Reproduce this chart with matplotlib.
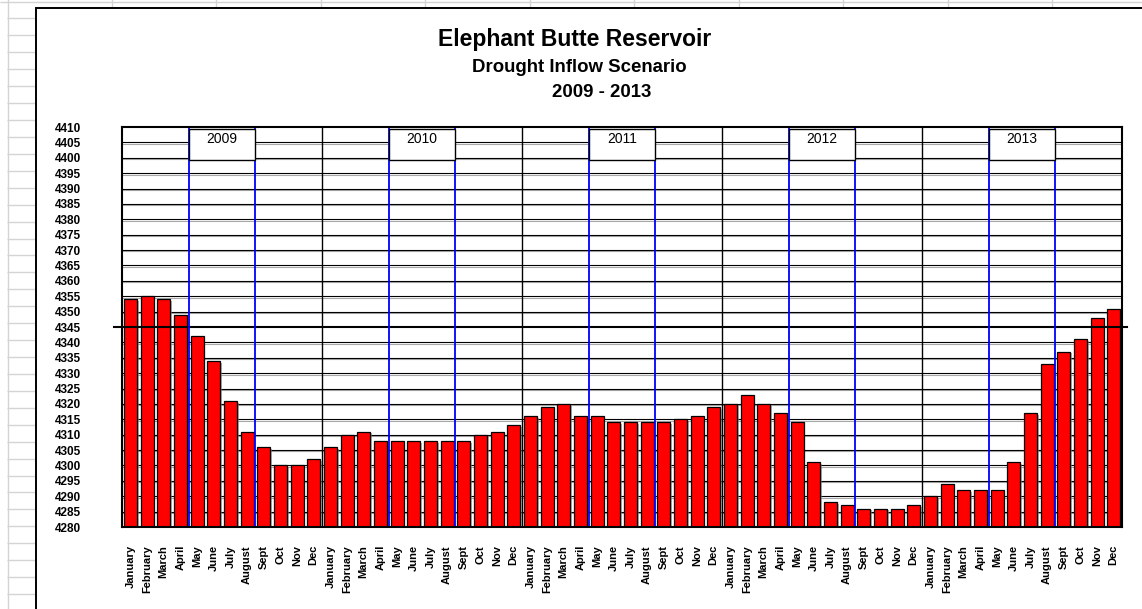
import numpy as np
import matplotlib
matplotlib.use("Agg")
import matplotlib.pyplot as plt
from matplotlib.patches import Rectangle
from matplotlib.lines import Line2D
from matplotlib.transforms import ScaledTranslation
import matplotlib.patheffects as pe

plt.rcParams['font.family'] = ['Liberation Sans', 'DejaVu Sans']

# ---- data -------------------------------------------------------------
years = [2009, 2010, 2011, 2012, 2013]
month_labels = ["January", "February", "March", "April", "May", "June",
                "July", "August", "Sept", "Oct", "Nov", "Dec"]

elev_2009 = [4354, 4355, 4354, 4349, 4342, 4334, 4321, 4311, 4306, 4300, 4300, 4302]
elev_2010 = [4306, 4310, 4311, 4308, 4308, 4308, 4308, 4308, 4308, 4310, 4311, 4313]
elev_2011 = [4316, 4319, 4320, 4316, 4316, 4314, 4314, 4314, 4314, 4315, 4316, 4319]
elev_2012 = [4320, 4323, 4320, 4317, 4314, 4301, 4288, 4287, 4286, 4286, 4286, 4287]
elev_2013 = [4290, 4294, 4292, 4292, 4292, 4301, 4317, 4333, 4337, 4341, 4348, 4351]

y_ticks = list(range(4280, 4411, 5))
reference_level = 4345
season_first_month = 4   # May
season_last_month = 8    # through August

elevations = np.array(elev_2009 + elev_2010 + elev_2011 + elev_2012 + elev_2013)
tick_labels = month_labels * len(years)

# ---- figure -----------------------------------------------------------
W, H = 1142, 609
DPI = 100
fig = plt.figure(figsize=(W / DPI, H / DPI), dpi=DPI)
fig.patch.set_facecolor("white")

# background layer in pixel coordinates (worksheet cells + chart frame)
bg = fig.add_axes([0, 0, 1, 1], zorder=0)
bg.set_xlim(0, W)
bg.set_ylim(H, 0)
bg.axis("off")

cell_gray = "#d4d4d4"
row_h = 16.93
k = 0
while 1 + k * row_h < H:
    yy = 1.5 + k * row_h
    if k == 0:
        bg.plot([0, W], [yy, yy], color=cell_gray, lw=1.0, solid_capstyle="butt")
    else:
        bg.plot([7, 35], [yy, yy], color=cell_gray, lw=1.0, solid_capstyle="butt")
    k += 1
bg.plot([7.5, 7.5], [0, H], color=cell_gray, lw=1.0)
xx = 111.5
while xx < W:
    bg.plot([xx, xx], [0, 7], color=cell_gray, lw=1.0)
    xx += 104.5

# chart-area frame (left and top edges)
bg.plot([35.5, 35.5, W + 2], [H + 2, 7.5, 7.5], color="black", lw=1.4,
        solid_joinstyle="miter")

# titles
bg.text(575, 46, "Elephant Butte Reservoir", ha="center", va="baseline",
        fontsize=16.5, fontweight="bold")
bg.text(579, 72, "Drought Inflow Scenario", ha="center", va="baseline",
        fontsize=13.4, fontweight="bold")
bg.text(602, 97, "2009 - 2013", ha="center", va="baseline",
        fontsize=13.4, fontweight="bold")

# ---- plot area --------------------------------------------------------
px_left, px_right, px_top, px_bottom = 122, 1122, 127, 527
ax = fig.add_axes([px_left / W, (H - px_bottom) / H,
                   (px_right - px_left) / W, (px_bottom - px_top) / H], zorder=1)
ax.set_facecolor("none")

n = len(elevations)
ax.set_xlim(0, n)
ax.set_ylim(y_ticks[0], y_ticks[-1])

# horizontal grid with a soft grey shadow just below each line
shadow = ax.get_yaxis_transform() + ScaledTranslation(0, -1.0 / 72, fig.dpi_scale_trans)
for v in y_ticks[1:-1]:
    if v == reference_level:
        continue
    ax.plot([0, 1], [v, v], transform=shadow, color="#a8a8a8", lw=0.8, zorder=1)
    ax.plot([0, 1], [v, v], transform=ax.get_yaxis_transform(), color="black",
            lw=0.8, zorder=1.1)

# year separators
for i in range(1, len(years)):
    ax.axvline(12 * i, color="black", lw=1.0, zorder=1.2)

# monthly elevation bars
x = np.arange(n) + 0.5
bars = ax.bar(x, elevations - y_ticks[0], bottom=y_ticks[0], width=0.78,
              color="#ff0000", edgecolor="black", linewidth=0.9, zorder=2)
for b in bars:
    b.set_path_effects([pe.SimplePatchShadow(offset=(1.2, -1.2),
                                             shadow_rgbFace="#808080", alpha=0.6),
                        pe.Normal()])

# reference level line, running slightly past the plot edges
ax.add_line(Line2D([-0.008, 1.005], [reference_level, reference_level],
                   transform=ax.get_yaxis_transform(), color="black", lw=1.5,
                   zorder=3, clip_on=False))

# May–August window for each year, with a year label box on top
for i, yr in enumerate(years):
    x0 = 12 * i + season_first_month
    x1 = 12 * i + season_last_month
    ax.add_patch(Rectangle((x0, y_ticks[0]), x1 - x0, y_ticks[-1] - y_ticks[0],
                           facecolor="none", edgecolor="#0000ff", lw=1.3,
                           zorder=4, clip_on=False))
    ax.add_patch(Rectangle((x0, 4399.4), x1 - x0, 10.0,
                           facecolor="white", edgecolor="black", lw=1.0, zorder=5))
    ax.text((x0 + x1) / 2, 4406.2, str(yr), ha="center", va="center",
            fontsize=10, zorder=6)

for s in ax.spines.values():
    s.set_color("black")
    s.set_linewidth(1.5)
    s.set_zorder(4.5)

ax.set_yticks(y_ticks)
ax.set_yticklabels([str(v) for v in y_ticks], fontsize=8.5, fontweight="bold")
ax.tick_params(axis="y", length=0, pad=29.5)

ax.set_xticks(x)
ax.set_xticklabels(tick_labels, rotation=90, fontsize=8, fontweight="bold")
ax.tick_params(axis="x", length=0, pad=13)

fig.savefig("out.png", dpi=DPI, facecolor="white")
